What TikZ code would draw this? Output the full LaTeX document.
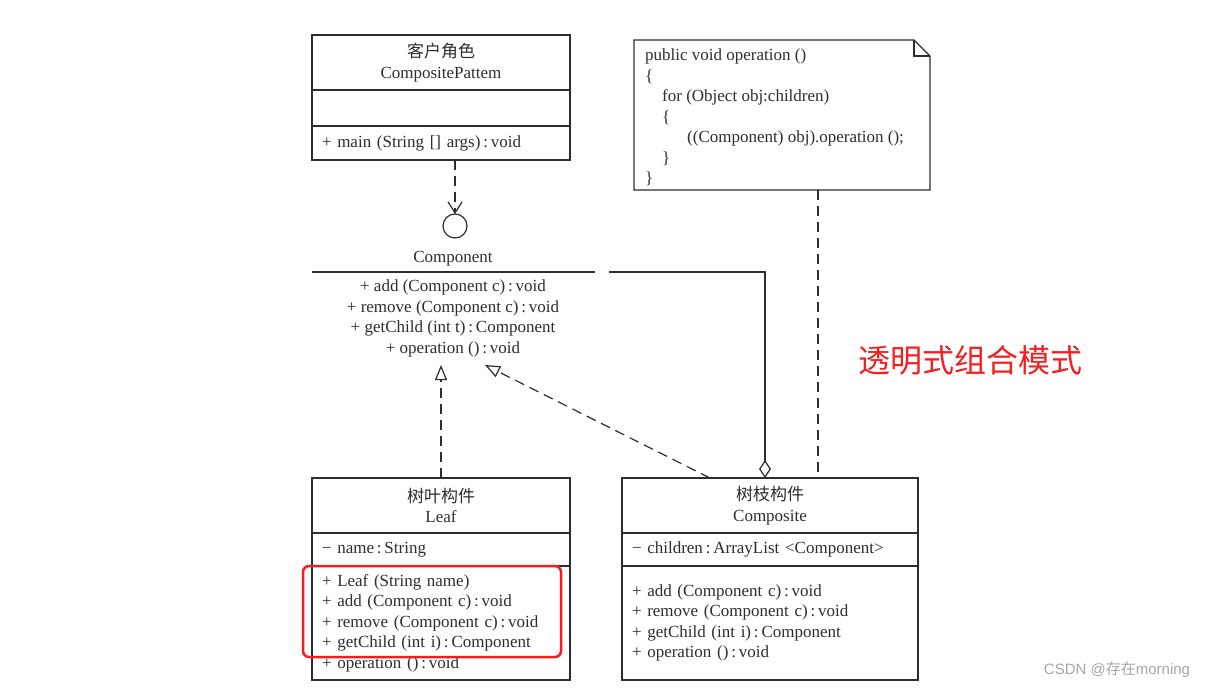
\documentclass[tikz,border=0pt]{standalone}
\usepackage{fontspec}
\setmainfont{Liberation Serif}
\newfontfamily\cjk{Noto Sans CJK SC}
\newfontfamily\wmfont{Liberation Sans}
\usetikzlibrary{arrows.meta,calc}
\definecolor{ink}{RGB}{45,45,45}
\definecolor{annot}{RGB}{245,30,30}
\begin{document}
\begin{tikzpicture}[x=1pt,y=-1pt,
  every node/.style={font=\fontsize{17}{20.5}\selectfont, text=ink},
  line/.style={draw=ink, line width=1.2pt},
  dashline/.style={dash pattern=on 10pt off 6pt},
  comp/.style={line, rectangle, inner sep=0pt, outer sep=0pt, anchor=north west, align=center},
  leftal/.style={text width=238pt, inner xsep=10pt, align=left},
  opentri/.style={-{Triangle[open, length=15pt, width=12pt, fill=white]}},
]
\useasboundingbox (0,0) rectangle (1223,690);

% client
\node[comp, minimum width=258pt, minimum height=55pt] (ct) at (312,35) {{\cjk 客户角色}\\CompositePattem};
\node[comp, minimum width=258pt, minimum height=36pt, anchor=north] (ca) at (ct.south) {};
\node[comp, leftal, minimum height=34pt, anchor=north] (cm) at (ca.south) {+ main (String [] args)\,:\,void};

% component interface
\node[line, circle, minimum size=24pt, inner sep=0pt, outer sep=0pt] (lol) at (455,226) {};
\draw[line, dashline, -{Straight Barb[length=11pt, width=14pt]}] (lol.north |- cm.south) -- (lol.north);
\node (cname) at (453,259) {Component};
\coordinate (cl) at (312,272);
\coordinate (cr) at (595,272);
\draw[line] (cl) -- (cr);
\node[align=center] (cmeth) at (453,318.5) {+ add (Component c)\,:\,void\\+ remove (Component c)\,:\,void\\+ getChild (int t)\,:\,Component\\+ operation ()\,:\,void};
\coordinate (gtip) at (441,365);
\coordinate (rtip) at (485,365);
\coordinate (aggend) at (609,272);

% note
\node[anchor=north west, minimum width=296pt, minimum height=150pt, inner sep=0pt, outer sep=0pt] (note) at (634,40) {};
\draw[line] (note.north west) -- ($(note.north east)+(-16,0)$) -- ($(note.north east)+(0,16)$) -- (note.south east) -- (note.south west) -- cycle;
\draw[line] ($(note.north east)+(-16,0)$) -- ($(note.north east)+(-16,16)$) -- ($(note.north east)+(0,16)$);
\node[anchor=north west, inner sep=0pt, align=left] (code) at (645,49) {public void operation ()\\
\{\\
\hspace*{17pt}for (Object obj:children)\\
\hspace*{17pt}\{\\
\hspace*{42pt}((Component) obj).operation ();\\
\hspace*{17pt}\}\\
\}};

% leaf
\node[comp, minimum width=258pt, minimum height=55pt] (lt) at (312,478) {{\cjk 树叶构件}\\Leaf};
\node[comp, leftal, minimum height=33pt, anchor=north] (la) at (lt.south) {− name\,:\,String};
\node[comp, leftal, minimum height=114pt, anchor=north] (lm) at (la.south) {+ Leaf (String name)\\+ add (Component c)\,:\,void\\+ remove (Component c)\,:\,void\\+ getChild (int i)\,:\,Component\\+ operation ()\,:\,void};

% composite
\node[comp, minimum width=296pt, minimum height=55pt] (kt) at (622,478) {{\cjk 树枝构件}\\Composite};
\node[comp, text width=276pt, inner xsep=10pt, align=left, minimum height=33pt, anchor=north] (ka) at (kt.south) {− children\,:\,ArrayList <Component>};
\node[comp, text width=276pt, inner xsep=10pt, align=left, minimum height=114pt, anchor=north] (km) at (ka.south) {+ add (Component c)\,:\,void\\+ remove (Component c)\,:\,void\\+ getChild (int i)\,:\,Component\\+ operation ()\,:\,void};

% connectors
\coordinate (kreal) at ($(kt.north west)+(88,0)$);
\coordinate (kagg) at ($(kt.north west)+(143,0)$);
\coordinate (knote) at ($(kt.north west)+(196,0)$);
\draw[line, dashline, opentri] (lt.north) -- (lt.north |- gtip);
\draw[line, dashline, opentri] (kreal) -- (rtip);
\draw[line, {Diamond[open, length=18pt, width=12pt, fill=white]}-] (kagg) |- (aggend);
\draw[line, dashline] (note.south -| knote) -- (knote);

% annotations
\draw[annot, line width=2.5pt, rounded corners=6pt] (303,566) rectangle (561,657);
\node[font=\cjk\fontsize{32}{36}\selectfont, text=annot] (title) at (970,360) {透明式组合模式};
\node[font=\wmfont\fontsize{15}{18}\selectfont, text=gray!70] (wm) at (1117,670) {CSDN @{\cjk 存在}morning};
\end{tikzpicture}
\end{document}
